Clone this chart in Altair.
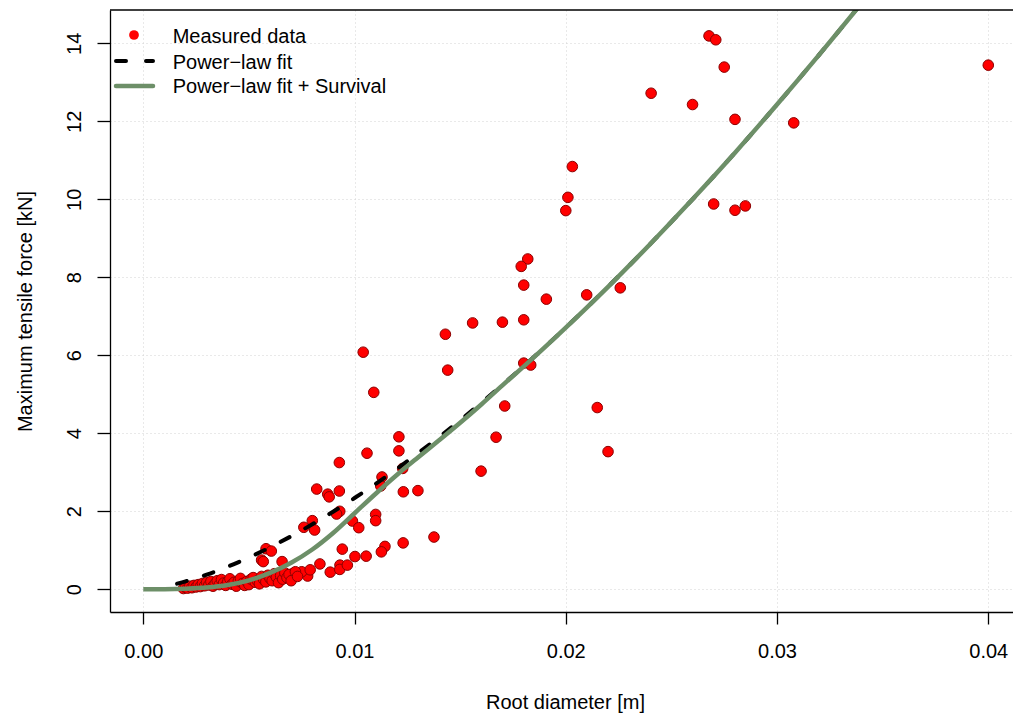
import altair as alt
import pandas as pd

root_diameter = [
    0.02678, 0.0271, 0.0275, 0.0400, 0.02404, 0.0260, 0.02801, 0.03079,
    0.02031, 0.0201, 0.0200, 0.0270, 0.02801, 0.0285,
    0.0182, 0.01789, 0.01801, 0.02258, 0.02099, 0.01908, 0.01801, 0.0170,
    0.01559, 0.0143, 0.01041, 0.01801, 0.01834, 0.01441, 0.01091, 0.01711,
    0.02149, 0.0121, 0.0167, 0.0121, 0.0220, 0.01059, 0.00928, 0.01228,
    0.01599, 0.0113, 0.01124, 0.00821, 0.0130, 0.00928, 0.01231, 0.00873,
    0.0088, 0.0093, 0.00915,
    0.0110, 0.0110, 0.0080, 0.0076, 0.00811, 0.0099, 0.0102, 0.01376,
    0.0123, 0.01144, 0.01127, 0.00581, 0.00606, 0.00942, 0.0056, 0.00568,
    0.00657, 0.01002, 0.01055, 0.00836, 0.00885, 0.00931, 0.0093, 0.00966,
    0.00778, 0.0071, 0.0075, 0.0079,
    0.0019, 0.0020, 0.0021, 0.0022, 0.0023, 0.0024, 0.0025, 0.0026, 0.0027,
    0.0028, 0.0029, 0.0030, 0.0031, 0.0032, 0.0033, 0.0034, 0.0035, 0.0036,
    0.0037, 0.0038, 0.0039, 0.0040, 0.0041, 0.0042, 0.0043, 0.0044, 0.0045,
    0.0046, 0.0047, 0.0048, 0.0049, 0.0050, 0.0051, 0.0052, 0.0053, 0.0054,
    0.0055, 0.0056, 0.0057, 0.0058, 0.0059, 0.0060, 0.0061, 0.0062, 0.0063,
    0.0064, 0.0065, 0.0066, 0.0067, 0.0068, 0.0069, 0.0070, 0.0072, 0.0073,
]
max_force = [
    14.19, 14.09, 13.39, 13.44, 12.72, 12.43, 12.05, 11.96,
    10.84, 10.05, 9.71, 9.88, 9.72, 9.83,
    8.47, 8.28, 7.80, 7.73, 7.55, 7.44, 6.91, 6.85,
    6.83, 6.54, 6.08, 5.80, 5.75, 5.62, 5.05, 4.70,
    4.66, 3.91, 3.90, 3.55, 3.53, 3.49, 3.25, 3.10,
    3.03, 2.88, 2.65, 2.57, 2.53, 2.52, 2.50, 2.44,
    2.37, 2.00, 1.93,
    1.92, 1.76, 1.76, 1.59, 1.52, 1.75, 1.58, 1.34,
    1.19, 1.10, 0.96, 1.04, 0.98, 1.03, 0.75, 0.71,
    0.71, 0.84, 0.85, 0.65, 0.44, 0.62, 0.51, 0.62,
    0.34, 0.41, 0.45, 0.50,
    0.02, 0.05, 0.03, 0.08, 0.04, 0.10, 0.06, 0.12, 0.07,
    0.15, 0.09, 0.18, 0.11, 0.20, 0.08, 0.14, 0.22, 0.12,
    0.25, 0.16, 0.10, 0.20, 0.27, 0.13, 0.18, 0.08, 0.22,
    0.28, 0.15, 0.10, 0.20, 0.12, 0.26, 0.30, 0.18, 0.22,
    0.14, 0.33, 0.25, 0.19, 0.36, 0.28, 0.22, 0.40, 0.31,
    0.17, 0.35, 0.26, 0.42, 0.30, 0.38, 0.22, 0.45, 0.33,
]

# ---- fitted curves ----
power_x = [0.0016, 0.002, 0.003, 0.004, 0.005, 0.006, 0.007, 0.008, 0.009,
           0.010, 0.012, 0.014, 0.016, 0.018, 0.020, 0.022, 0.024, 0.026,
           0.028, 0.030, 0.032, 0.034, 0.036, 0.038, 0.040]
power_y = [0.144, 0.203, 0.375, 0.581, 0.816, 1.077, 1.361, 1.667, 1.994,
           2.34, 3.087, 3.903, 4.781, 5.717, 6.711, 7.757, 8.855, 10.0,
           11.19, 12.43, 13.71, 15.03, 16.4, 17.8, 19.25]

surv_x = [0.0, 0.001, 0.002, 0.003, 0.004, 0.005, 0.006, 0.007, 0.008, 0.009,
          0.010, 0.011, 0.012, 0.013, 0.014, 0.015, 0.016, 0.017, 0.018,
          0.020, 0.022, 0.024, 0.026, 0.028, 0.030, 0.032, 0.034, 0.036,
          0.038, 0.040]
surv_y = [0.0, 0.002, 0.015, 0.045, 0.11, 0.23, 0.42, 0.68, 1.02, 1.45,
          1.95, 2.45, 2.93, 3.38, 3.82, 4.27, 4.74, 5.23, 5.71,
          6.711, 7.757, 8.855, 10.0, 11.19, 12.43, 13.71, 15.03, 16.4,
          17.8, 19.25]

legend_labels = ["Measured data", "Power\u2212law fit", "Power\u2212law fit + Survival"]
x_ticks = [0.0, 0.01, 0.02, 0.03, 0.04]
y_ticks = [0, 2, 4, 6, 8, 10, 12, 14]

W, H = 903, 602
FONT = "Liberation Sans"
RED = "#ff0000"
DARKRED = "#8b0000"
GREEN = "#6d8f68"

df_pts = pd.DataFrame({"x": root_diameter, "y": max_force})
df_pow = pd.DataFrame({"x": power_x, "y": power_y})
df_surv = pd.DataFrame({"x": surv_x, "y": surv_y})
one = pd.DataFrame({"a": [0]})

xscale = alt.Scale(domain=[-0.001576, 0.04117], nice=False, zero=False)
yscale = alt.Scale(domain=[-0.582, 14.854], nice=False, zero=False)

common_axis = dict(
    grid=True, gridColor="#d3d3d3", gridDash=[1, 3], gridWidth=1,
    domainColor="black", domainWidth=1.3, tickColor="black", tickWidth=1.3,
    labelFont=FONT, labelFontSize=20, labelColor="black", labelFlush=False,
    labelOverlap=False, titleFont=FONT, titleFontSize=20, titleColor="black",
    titleFontWeight="normal",
)
x_axis = alt.Axis(values=x_ticks, format=".2f", title="Root diameter [m]",
                  tickSize=12, labelPadding=17, labelBaseline="top",
                  labelAlign="center", titleX=455, titleY=96,
                  titleAlign="center", titleBaseline="alphabetic",
                  **common_axis)
y_axis = alt.Axis(values=y_ticks, format="d", title="Maximum tensile force [kN]",
                  tickSize=13, labelPadding=17, labelAngle=270,
                  labelAlign="center", labelBaseline="alphabetic",
                  titleAngle=270, titleX=-79, titleY=H / 2,
                  titleAlign="center", titleBaseline="alphabetic",
                  **common_axis)

X = alt.X("x:Q", scale=xscale, axis=x_axis)
Y = alt.Y("y:Q", scale=yscale, axis=y_axis)

points = alt.Chart(df_pts).mark_circle(
    size=112, color=RED, stroke=DARKRED, strokeWidth=1, opacity=1
).encode(x=X, y=Y)

power = alt.Chart(df_pow).mark_line(
    color="black", strokeWidth=4, strokeDash=[10, 18], strokeCap="round",
    clip=True, interpolate="monotone"
).encode(x=X, y=Y)

surv = alt.Chart(df_surv).mark_line(
    color=GREEN, strokeWidth=4.5, clip=True, interpolate="monotone"
).encode(x=X, y=Y)

top_border = alt.Chart(one).mark_rule(color="black", strokeWidth=1.3).encode(
    x=alt.value(0), x2=alt.value(W), y=alt.value(0)
)

# ---- legend (top-left inside the plot) ----
leg_dot = alt.Chart(one).mark_circle(size=95, color=RED, opacity=1).encode(
    x=alt.value(24), y=alt.value(25)
)
leg_dash = alt.Chart(one).mark_rule(
    color="black", strokeWidth=4, strokeDash=[10, 20], strokeCap="round"
).encode(x=alt.value(6), x2=alt.value(43), y=alt.value(51))
leg_green = alt.Chart(one).mark_rule(
    color=GREEN, strokeWidth=4.5, strokeCap="round"
).encode(x=alt.value(6), x2=alt.value(43), y=alt.value(76))

leg_texts = []
for lbl, yy in zip(legend_labels, [33, 58.5, 83]):
    leg_texts.append(
        alt.Chart(one).mark_text(
            align="left", baseline="alphabetic", font=FONT, fontSize=20,
            color="black"
        ).encode(x=alt.value(62.7), y=alt.value(yy), text=alt.value(lbl))
    )

chart = alt.layer(
    points, power, surv, top_border, leg_dot, leg_dash, leg_green, *leg_texts
).properties(
    width=W, height=H,
    autosize=alt.AutoSizeParams(type="none"),
    padding={"left": 110, "top": 10, "right": 0, "bottom": 104},
    background="white",
).configure_view(stroke=None)

chart.save("out.html", embed_options={"renderer": "svg", "actions": False})
